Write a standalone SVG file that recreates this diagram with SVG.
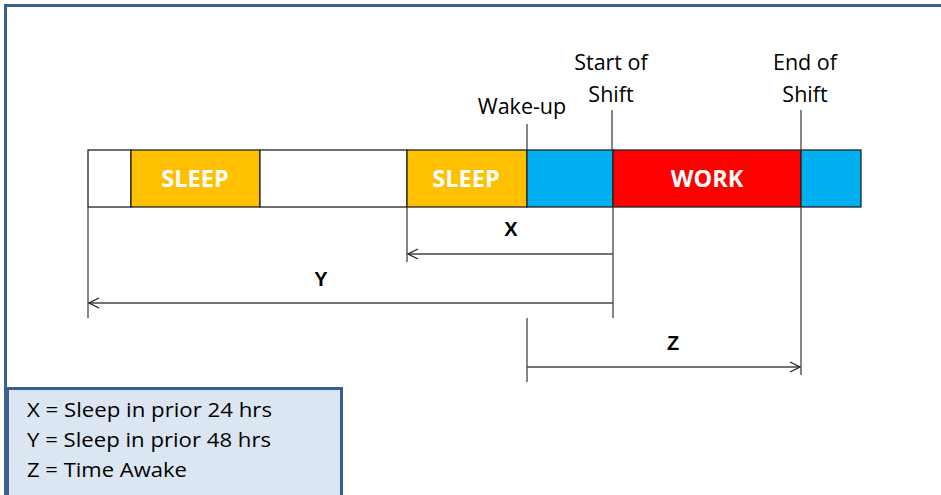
<svg xmlns="http://www.w3.org/2000/svg" width="941" height="495" viewBox="0 0 941 495">
<defs>
<style>
.lbl{font-family:"Open Sans","Liberation Sans",sans-serif;font-size:21.5px;fill:#000;text-anchor:middle}
.bar{font-family:"Open Sans","Liberation Sans",sans-serif;font-size:23.5px;font-weight:bold;fill:#fff;text-anchor:middle}
.dim{font-family:"Liberation Sans",sans-serif;font-size:20px;font-weight:bold;fill:#000;text-anchor:middle}
.leg{font-family:"Open Sans","Liberation Sans",sans-serif;font-size:20px;fill:#000}
.seg{stroke:#222;stroke-width:1.3}
.ln{stroke:#444;stroke-width:1.3;fill:none}
</style>
<marker id="ah" viewBox="0 0 12 12" refX="11" refY="6" markerWidth="12" markerHeight="12" markerUnits="userSpaceOnUse" orient="auto">
<path d="M1,1 L11,6 L1,11" fill="none" stroke="#222" stroke-width="1.2"/>
</marker>
</defs>
<rect x="0" y="0" width="941" height="495" fill="#fff"/>
<path d="M5.5,495 V5.5 H941" fill="none" stroke="#3b5f8f" stroke-width="3"/>
<g id="timeline">
<rect class="seg" x="88" y="150" width="43" height="57" fill="#fff"/>
<rect class="seg" x="131" y="150" width="129" height="57" fill="#ffc000"/>
<rect class="seg" x="260" y="150" width="147" height="57" fill="#fff"/>
<rect class="seg" x="407" y="150" width="120" height="57" fill="#ffc000"/>
<rect class="seg" x="527" y="150" width="86" height="57" fill="#00b0f0"/>
<rect class="seg" x="613" y="150" width="188" height="57" fill="#ff0000"/>
<rect class="seg" x="801" y="150" width="60" height="57" fill="#00b0f0"/>
<text class="bar" x="195" y="187">SLEEP</text>
<text class="bar" x="466" y="187">SLEEP</text>
<text class="bar" x="707" y="187">WORK</text>
</g>
<g id="markers">
<text class="lbl" x="611" y="70">Start of</text>
<text class="lbl" x="611" y="102">Shift</text>
<text class="lbl" x="805" y="70">End of</text>
<text class="lbl" x="805" y="102">Shift</text>
<text class="lbl" x="522" y="114">Wake-up</text>
</g>
<g id="connectors">
<line class="ln" x1="527" y1="124" x2="527" y2="150"/>
<line class="ln" x1="612" y1="110" x2="612" y2="150"/>
<line class="ln" x1="801" y1="110" x2="801" y2="150"/>
<line class="ln" x1="88" y1="207" x2="88" y2="318"/>
<line class="ln" x1="407" y1="207" x2="407" y2="262"/>
<line class="ln" x1="613" y1="207" x2="613" y2="318"/>
<line class="ln" x1="801" y1="207" x2="801" y2="375"/>
<line class="ln" x1="527" y1="318" x2="527" y2="382"/>
<line class="ln" x1="613" y1="254" x2="408" y2="254" marker-end="url(#ah)"/>
<line class="ln" x1="613" y1="303" x2="89" y2="303" marker-end="url(#ah)"/>
<line class="ln" x1="527" y1="367" x2="800" y2="367" marker-end="url(#ah)"/>
<text class="dim" x="511" y="236">X</text>
<text class="dim" x="321" y="286">Y</text>
<text class="dim" x="673" y="350">Z</text>
</g>
<g id="legend">
<rect x="7.5" y="388.5" width="334" height="110" fill="#dce6f2" stroke="#3b5f8f" stroke-width="3"/>
<text class="leg" x="27" y="417" textLength="245" lengthAdjust="spacingAndGlyphs">X = Sleep in prior 24 hrs</text>
<text class="leg" x="27" y="447" textLength="244" lengthAdjust="spacingAndGlyphs">Y = Sleep in prior 48 hrs</text>
<text class="leg" x="27" y="477" textLength="160" lengthAdjust="spacingAndGlyphs">Z = Time Awake</text>
</g>
</svg>
